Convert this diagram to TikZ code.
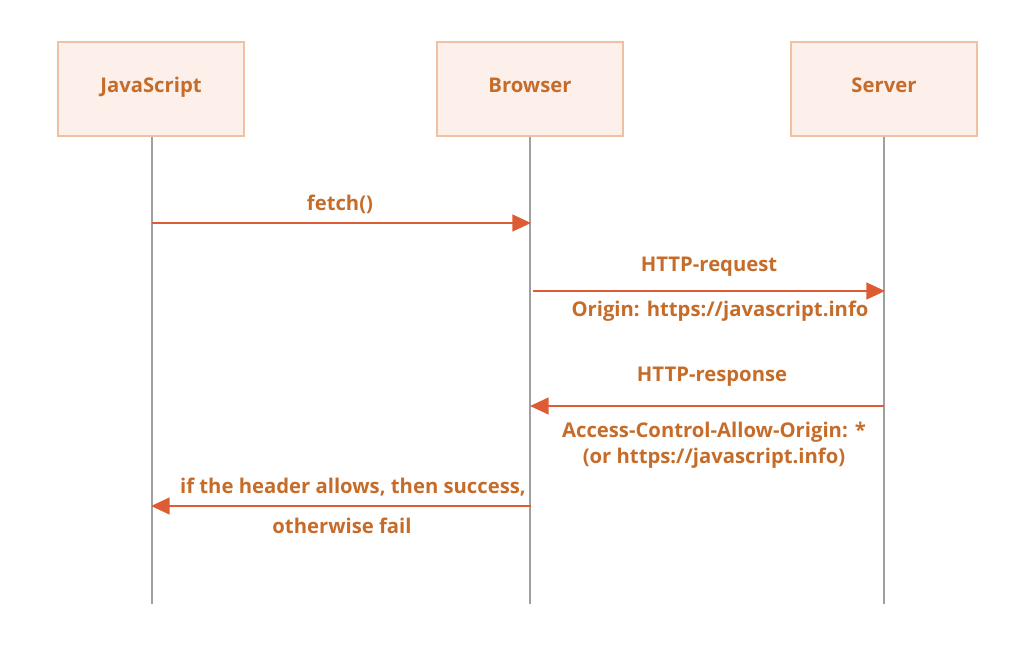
\documentclass[tikz,border=0pt]{standalone}
\usepackage{fontspec}
\setmainfont{Open Sans}
\usetikzlibrary{positioning, arrows.meta, calc}
\definecolor{BoxFill}{RGB}{253,240,234}
\definecolor{BoxEdge}{RGB}{240,192,162}
\definecolor{LabelBrown}{RGB}{198,108,42}
\definecolor{ArrowRed}{RGB}{222,92,52}
\definecolor{LifeGray}{RGB}{160,160,160}

\begin{document}
\begin{tikzpicture}[x=0.75pt, y=-0.75pt,
    actor/.style={draw=BoxEdge, line width=1.6pt, fill=BoxFill,
      minimum width=140pt, minimum height=70pt, text=LabelBrown,
      text height=12pt, text depth=7pt,
      font=\bfseries\fontsize{15.2}{18}\selectfont},
    msg/.style={text=LabelBrown, font=\bfseries\fontsize{15.2}{19.5}\selectfont},
    lifeline/.style={LifeGray, line width=1pt},
    call/.style={ArrowRed, line width=1.9pt, -{Triangle[length=14pt, width=12.5pt]}}]
    % Canvas
    \useasboundingbox (0,0) rectangle (1027,667);

    % Participants
    \node[actor] (js) at (151, 89) {JavaScript};
    \node[actor] (browser) at (530, 89) {Browser};
    \node[actor] (server) at (884, 89) {Server};

    % Lifelines
    \coordinate (jsEnd) at (152, 604);
    \coordinate (browserEnd) at (530, 604);
    \coordinate (serverEnd) at (884, 604);
    \draw[lifeline] (js.south -| jsEnd) -- (jsEnd);
    \draw[lifeline] (browser.south -| browserEnd) -- (browserEnd);
    \draw[lifeline] (server.south -| serverEnd) -- (serverEnd);

    % fetch()
    \coordinate (fetchFrom) at (152, 223);
    \coordinate (fetchTo) at (531, 223);
    \draw[call] (fetchFrom) -- (fetchTo);
    \node[msg] (fetchLabel) at (340, 204) {fetch()};

    % HTTP-request
    \coordinate (reqFrom) at (533, 291);
    \coordinate (reqTo) at (885, 291);
    \draw[call] (reqFrom) -- (reqTo);
    \node[msg] (reqLabel) at (709, 267) {HTTP-request};
    \node[msg] (reqOrigin) at (720, 311) {Origin: https://javascript.info};

    % HTTP-response
    \coordinate (respFrom) at (884, 406);
    \coordinate (respTo) at (530, 406);
    \draw[call] (respFrom) -- (respTo);
    \node[msg] (respLabel) at (712, 377) {HTTP-response};
    \node[msg, align=center] (respHeader) at (714, 445)
      {Access-Control-Allow-Origin: *\\(or https://javascript.info)};

    % Result back to JavaScript
    \coordinate (resFrom) at (531, 506);
    \coordinate (resTo) at (151, 506);
    \draw[call] (resFrom) -- (resTo);
    \node[msg] (resLabel) at (353, 487) {if the header allows, then success,};
    \node[msg] (resFail) at (342, 526) {otherwise fail};
\end{tikzpicture}
\end{document}
